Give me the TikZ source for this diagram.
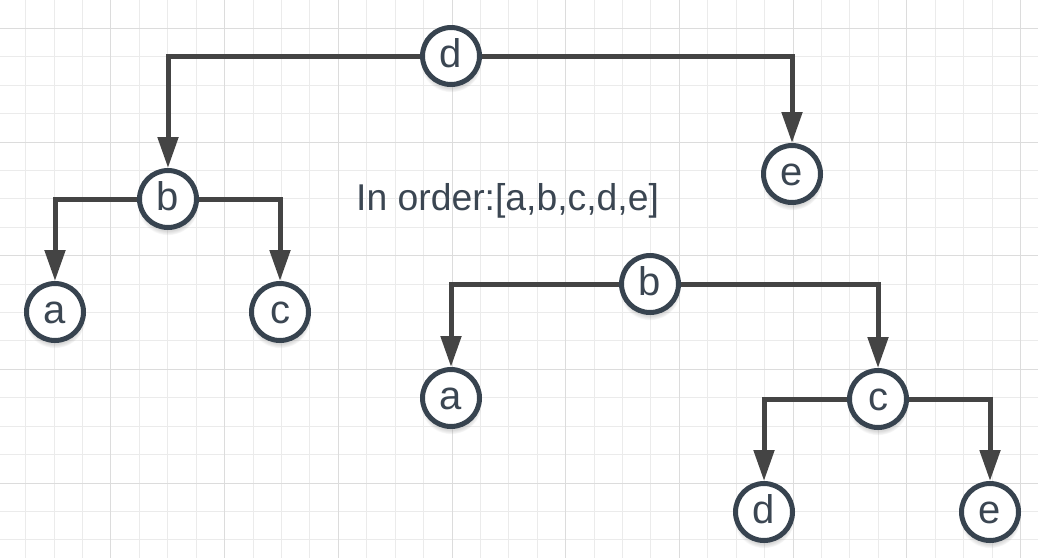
\documentclass[tikz,border=0pt]{standalone}
\usepackage{fontspec}
\setmainfont{Liberation Sans}
\usetikzlibrary{arrows.meta,shadows,fadings}
\definecolor{ringc}{HTML}{37434F}
\definecolor{txtc}{HTML}{3B4652}
\definecolor{linec}{HTML}{444444}
\definecolor{gridminor}{HTML}{EBEBEB}
\definecolor{gridmajor}{HTML}{DCDCDC}
\tikzset{
  tnode/.style={circle, draw=ringc, line width=5pt, fill=white, minimum size=57pt, inner sep=0pt,
    text height=22pt, text depth=0pt, text=txtc, font=\fontsize{40}{48}\selectfont,
    circular drop shadow={shadow xshift=0pt, shadow yshift=-5pt, shadow scale=1.08, opacity=0.3}},
  conn/.style={draw=linec, line width=5pt, -{Triangle[length=31pt,width=20pt]}},
  minorline/.style={draw=gridminor, line width=1pt},
  majorline/.style={draw=gridmajor, line width=1pt}
}
\begin{document}
\begin{tikzpicture}[x=1pt,y=-1pt]
\useasboundingbox (0,0) rectangle (1038,558);
\fill[white] (0,0) rectangle (1038,558);
% grid
\foreach \k in {0,...,37} {
  \pgfmathsetmacro{\xx}{-2.7+28.42*\k}
  \draw[minorline] (\xx,0) -- (\xx,558);
}
\foreach \k in {0,...,20} {
  \pgfmathsetmacro{\yy}{-0.1+28.42*\k}
  \draw[minorline] (0,\yy) -- (1038,\yy);
}
\foreach \k in {1,...,9} {
  \pgfmathsetmacro{\xx}{-2.7+113.68*\k}
  \draw[majorline] (\xx,0) -- (\xx,558);
}
\foreach \k in {0,...,4} {
  \pgfmathsetmacro{\yy}{28.32+113.68*\k}
  \draw[majorline] (0,\yy) -- (1038,\yy);
}
% first tree
\node[tnode] (d1) at (451,56) {d};
\node[tnode] (b1) at (168,199) {b};
\node[tnode] (e1) at (792,174) {e};
\node[tnode] (a1) at (55,312) {a};
\node[tnode] (c1) at (280,312) {c};
% second tree
\node[tnode] (b2) at (650,284) {b};
\node[tnode] (a2) at (451,398) {a};
\node[tnode] (c2) at (878,399) {c};
\node[tnode] (d2) at (764,512) {d};
\node[tnode] (e2) at (990,512) {e};
% caption
\node[anchor=base west, inner sep=0pt, text=txtc, font=\fontsize{37.3}{44}\selectfont] (cap) at (356,210) {In order:[a,b,c,d,e]};
% connectors
\draw[conn] (d1) -| (b1);
\draw[conn] (d1) -| (e1);
\draw[conn] (b1) -| (a1);
\draw[conn] (b1) -| (c1);
\draw[conn] (b2) -| (a2);
\draw[conn] (b2) -| (c2);
\draw[conn] (c2) -| (d2);
\draw[conn] (c2) -| (e2);
\end{tikzpicture}
\end{document}
